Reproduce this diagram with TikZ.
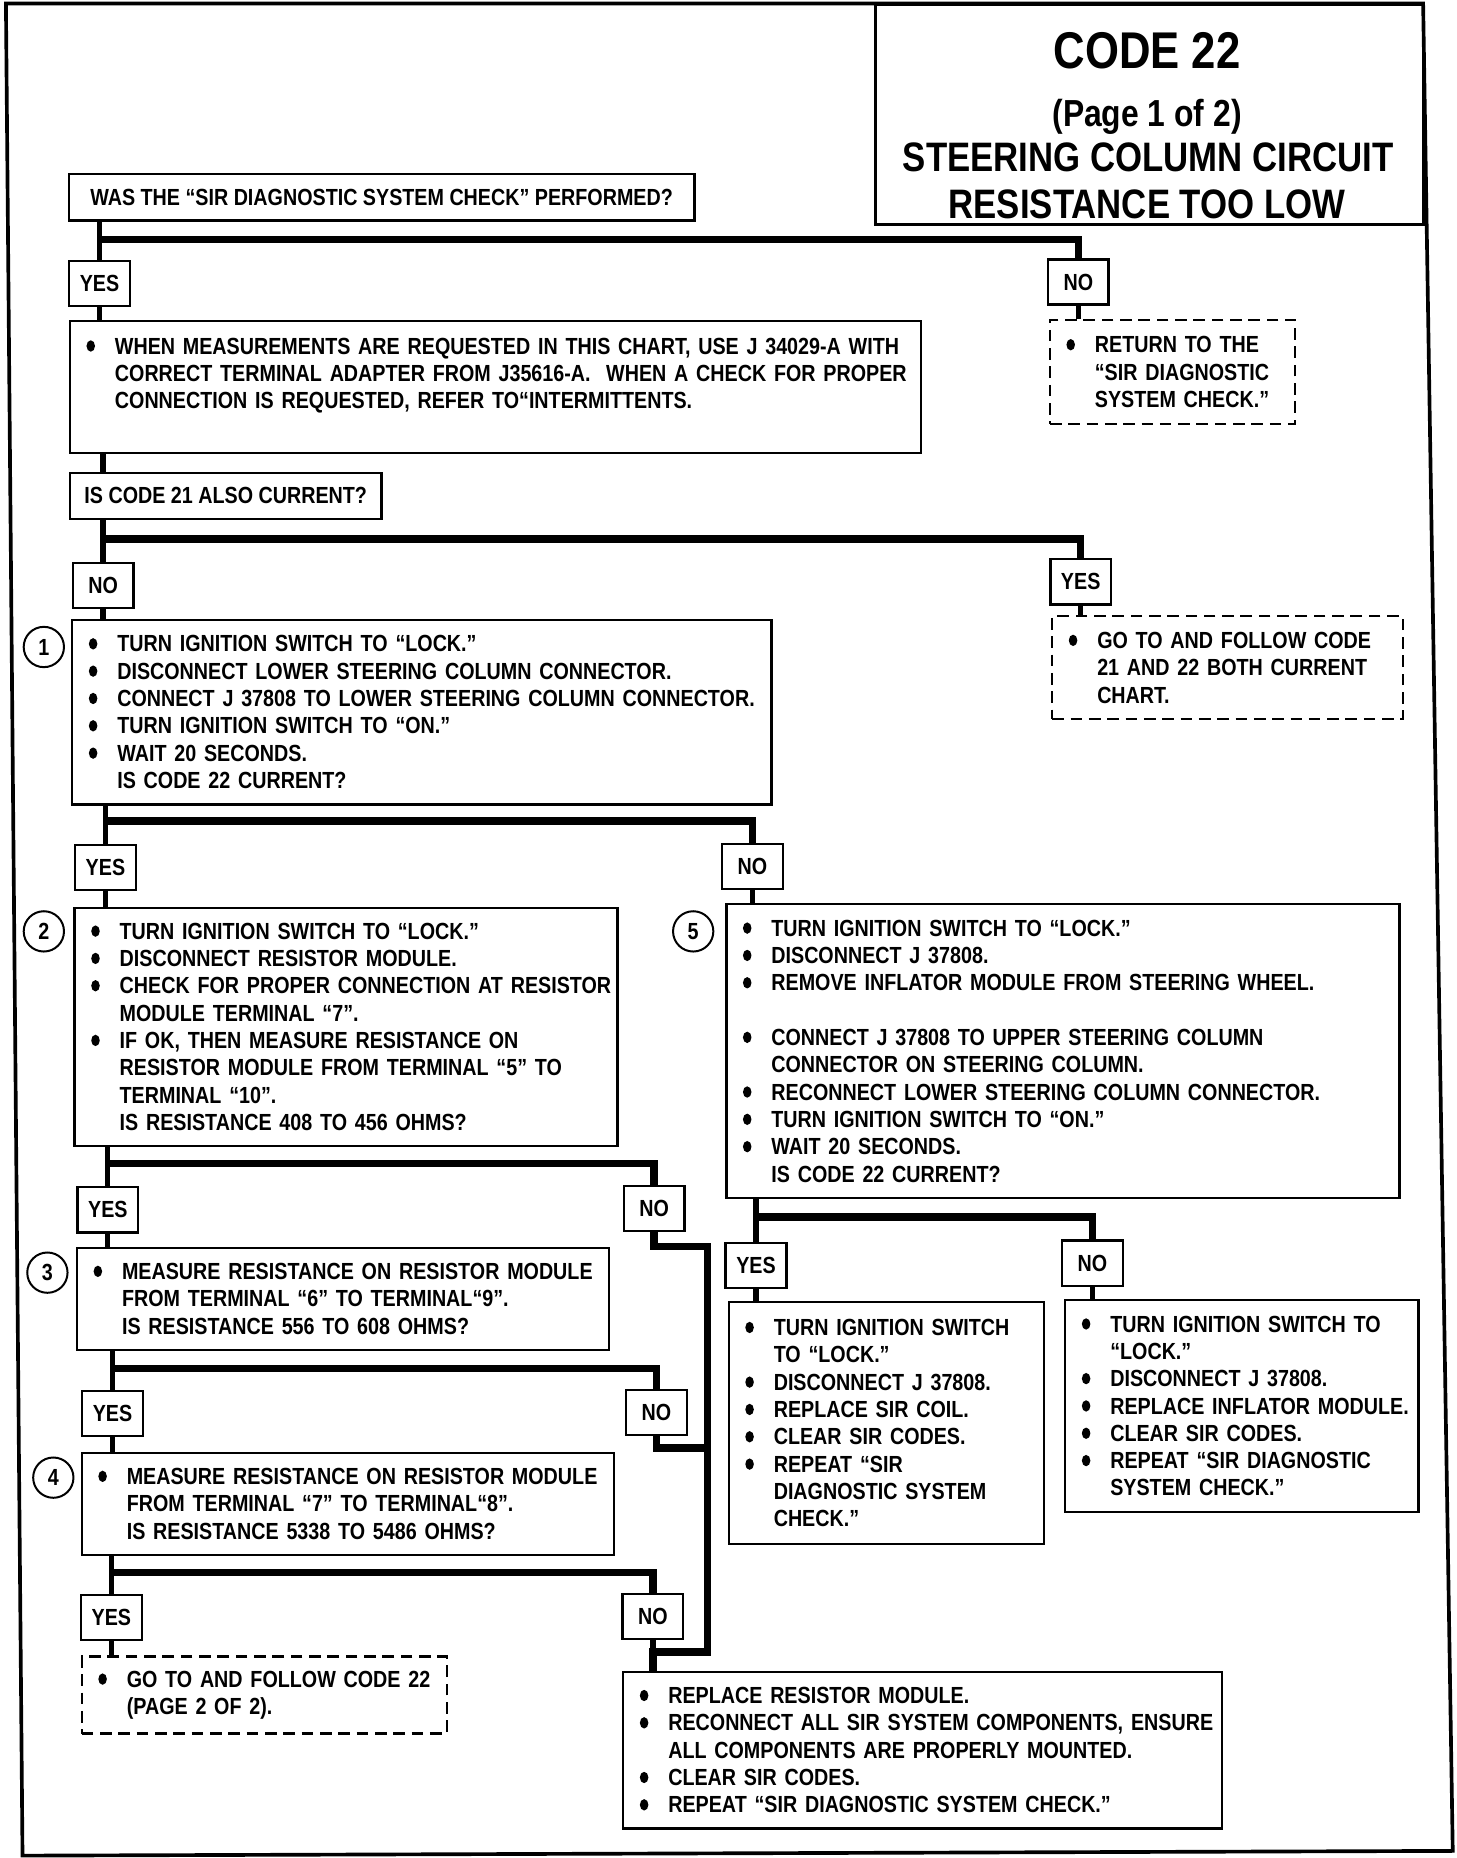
\documentclass[tikz,border=0pt]{standalone}
\usepackage{fontspec}
\setmainfont{Liberation Sans}[FakeStretch=0.845]
\usepackage{xcolor}

\newcommand{\bodyfont}{\fontsize{14}{16.4}\selectfont\bfseries}
\newcommand{\bigdot}{\tikz[baseline=0pt]\fill (0.09cm,0.17cm) ellipse [x radius=0.09cm, y radius=0.12cm];}
\newcommand{\bitem}[1]{\mbox{\hspace{0.2cm}\makebox[0.6cm][l]{\bigdot}#1}}
\newcommand{\citem}[1]{\mbox{\hspace{0.8cm}#1}}

\tikzset{
 box/.style={draw, line width=1.4pt, anchor=north west, inner xsep=0.15cm, inner ysep=0pt, align=left},
 dbox/.style={box, dash pattern=on 7pt off 4pt},
 qbox/.style={draw, line width=1.4pt, anchor=north west, minimum height=0.975cm, inner sep=0pt},
 ans/.style={draw, line width=1.4pt, minimum width=1.28cm, minimum height=0.95cm, inner sep=0pt},
 num/.style={circle, draw, line width=1.2pt, minimum size=0.85cm, inner sep=0pt},
 stub/.style={line width=3.2pt},
 bar/.style={line width=4.5pt},
}

\begin{document}
\begin{tikzpicture}[x=0.025cm, y=-0.025cm, font=\bodyfont]
\useasboundingbox (0,0) rectangle (1229,1568);

 %frame
 \draw[line width=2.2pt] (5,3) -- (1201,3) -- (1226,1562) -- (19,1566) -- cycle;

 %title
 \node[draw, line width=1.6pt, anchor=north west, minimum width=11.55cm, minimum height=4.625cm, inner sep=0pt] (title) at (738,3) {};
 \node[anchor=base, font=\fontsize{31}{35}\selectfont\bfseries] (tcode) at (968,58) {CODE 22};
 \node[anchor=base, font=\fontsize{22.6}{26}\selectfont\bfseries] (tpage) at (968,107) {(Page 1 of 2)};
 \node[anchor=base, font=\fontsize{24.7}{28}\selectfont\bfseries] (tl1) at (969,145) {STEERING COLUMN CIRCUIT};
 \node[anchor=base, font=\fontsize{24.7}{28}\selectfont\bfseries] (tl2) at (968,184) {RESISTANCE TOO LOW};

 %first check
 \node[qbox, minimum width=13.2cm] (q0) at (57,146) {WAS THE “SIR DIAGNOSTIC SYSTEM CHECK” PERFORMED?};
 \node[ans] (y0) at (84,239) {YES};
 \node[ans] (n0) at (910,238) {NO};

 \node[box, text width=17.65cm, minimum height=2.775cm] (ba) at (58,270) {\bitem{WHEN MEASUREMENTS ARE REQUESTED IN THIS CHART, USE J 34029-A WITH}\\
 \citem{CORRECT TERMINAL ADAPTER FROM J35616-A.\ \ WHEN A CHECK FOR PROPER}\\
 \citem{CONNECTION IS REQUESTED, REFER TO“INTERMITTENTS.}\\ \mbox{}};
 \node[dbox, text width=4.875cm, minimum height=2.2cm] (bb) at (885,269) {\bitem{RETURN TO THE}\\ \citem{“SIR DIAGNOSTIC}\\ \citem{SYSTEM CHECK.”}};

 %code 21
 \node[qbox, minimum width=6.575cm] (q1) at (58,398) {IS CODE 21 ALSO CURRENT?};
 \node[ans] (n1) at (87,494) {NO};
 \node[ans] (y1) at (912,491) {YES};
 \node[dbox, text width=7.1cm, minimum height=2.175cm] (bc) at (887,519) {\bitem{GO TO AND FOLLOW CODE}\\ \citem{21 AND 22 BOTH CURRENT}\\ \citem{CHART.}};

 %step 1
 \node[num] (c1) at (37,546) {1};
 \node[box, text width=14.45cm, minimum height=3.9cm] (b1) at (60,522) {\bitem{TURN IGNITION SWITCH TO “LOCK.”}\\
 \bitem{DISCONNECT LOWER STEERING COLUMN CONNECTOR.}\\
 \bitem{CONNECT J 37808 TO LOWER STEERING COLUMN CONNECTOR.}\\
 \bitem{TURN IGNITION SWITCH TO “ON.”}\\
 \bitem{WAIT 20 SECONDS.}\\
 \citem{IS CODE 22 CURRENT?}};
 \node[ans] (y2) at (89,732) {YES};
 \node[ans] (n2) at (635,731) {NO};

 %step 2
 \node[num] (c2) at (37,786) {2};
 \node[box, text width=11.15cm, minimum height=5.025cm] (b2) at (62,765) {\bitem{TURN IGNITION SWITCH TO “LOCK.”}\\
 \bitem{DISCONNECT RESISTOR MODULE.}\\
 \bitem{CHECK FOR PROPER CONNECTION AT RESISTOR}\\
 \citem{MODULE TERMINAL “7”.}\\
 \bitem{IF OK, THEN MEASURE RESISTANCE ON}\\
 \citem{RESISTOR MODULE FROM TERMINAL “5” TO}\\
 \citem{TERMINAL “10”.}\\
 \citem{IS RESISTANCE 408 TO 456 OHMS?}};
 \node[ans] (y3) at (91,1021) {YES};
 \node[ans] (n3) at (552,1020) {NO};

 %step 5
 \node[num] (c5) at (585,786) {5};
 \node[box, text width=13.9cm, minimum height=6.2cm] (b5) at (612,762) {\bitem{TURN IGNITION SWITCH TO “LOCK.”}\\
 \bitem{DISCONNECT J 37808.}\\
 \bitem{REMOVE INFLATOR MODULE FROM STEERING WHEEL.}\\[0.575cm]
 \bitem{CONNECT J 37808 TO UPPER STEERING COLUMN}\\
 \citem{CONNECTOR ON STEERING COLUMN.}\\
 \bitem{RECONNECT LOWER STEERING COLUMN CONNECTOR.}\\
 \bitem{TURN IGNITION SWITCH TO “ON.”}\\
 \bitem{WAIT 20 SECONDS.}\\
 \citem{IS CODE 22 CURRENT?}};
 \node[ans] (y6) at (638,1068) {YES};
 \node[ans] (n6) at (922,1066) {NO};
 \node[box, text width=6.35cm, minimum height=5.1cm] (b7) at (614,1098) {\bitem{TURN IGNITION SWITCH}\\
 \citem{TO “LOCK.”}\\
 \bitem{DISCONNECT J 37808.}\\
 \bitem{REPLACE SIR COIL.}\\
 \bitem{CLEAR SIR CODES.}\\
 \bitem{REPEAT “SIR}\\
 \citem{DIAGNOSTIC SYSTEM}\\
 \citem{CHECK.”}};
 \node[box, text width=7.15cm, minimum height=4.475cm] (b8) at (898,1096) {\bitem{TURN IGNITION SWITCH TO}\\
 \citem{“LOCK.”}\\
 \bitem{DISCONNECT J 37808.}\\
 \bitem{REPLACE INFLATOR MODULE.}\\
 \bitem{CLEAR SIR CODES.}\\
 \bitem{REPEAT “SIR DIAGNOSTIC}\\
 \citem{SYSTEM CHECK.”}};

 %step 3
 \node[num] (c3) at (40,1074) {3};
 \node[box, text width=10.925cm, minimum height=2.15cm] (b3) at (64,1052) {\bitem{MEASURE RESISTANCE ON RESISTOR MODULE}\\
 \citem{FROM TERMINAL “6” TO TERMINAL“9”.}\\
 \citem{IS RESISTANCE 556 TO 608 OHMS?}};
 \node[ans] (y4) at (95,1193) {YES};
 \node[ans] (n4) at (554,1192) {NO};

 %step 4
 \node[num] (c4) at (45,1247) {4};
 \node[box, text width=10.925cm, minimum height=2.15cm] (b4) at (68,1225) {\bitem{MEASURE RESISTANCE ON RESISTOR MODULE}\\
 \citem{FROM TERMINAL “7” TO TERMINAL“8”.}\\
 \citem{IS RESISTANCE 5338 TO 5486 OHMS?}};
 \node[ans] (y5) at (94,1365) {YES};
 \node[ans] (n5) at (551,1364) {NO};

 \node[dbox, text width=7.4cm, minimum height=1.625cm] (bd) at (68,1397) {\bitem{GO TO AND FOLLOW CODE 22}\\ \citem{(PAGE 2 OF 2).}};
 \node[box, text width=12.325cm, minimum height=3.3cm] (b6) at (525,1410) {\bitem{REPLACE RESISTOR MODULE.}\\
 \bitem{RECONNECT ALL SIR SYSTEM COMPONENTS, ENSURE}\\
 \citem{ALL COMPONENTS ARE PROPERLY MOUNTED.}\\
 \bitem{CLEAR SIR CODES.}\\
 \bitem{REPEAT “SIR DIAGNOSTIC SYSTEM CHECK.”}};

 %connectors
 \coordinate (j0) at (84,202);
 \coordinate (j1) at (87,455);
 \coordinate (j2) at (89,693);
 \coordinate (j3) at (91,982);
 \coordinate (j4) at (95,1155);
 \coordinate (j5) at (94,1327);
 \coordinate (j6) at (638,1027);
 \coordinate (k1) at (597,1052); %NO path to resistor module
 \coordinate (k2) at (597,1222);
 \coordinate (k3) at (597,1394);

 \draw[stub] (q0.south -| y0.north) -- (y0.north);
 \draw[bar] (j0) -| (n0.north);
 \draw[stub] (y0.south) -- (ba.north -| y0.south);
 \draw[stub] (n0.south) -- (bb.north -| n0.south);

 \draw[stub] (ba.south -| n1.north) -- (q1.north -| n1.north);
 \draw[stub] (q1.south -| n1.north) -- (n1.north);
 \draw[bar] (j1) -| (y1.north);
 \draw[stub] (n1.south) -- (b1.north -| n1.south);
 \draw[stub] (y1.south) -- (bc.north -| y1.south);

 \draw[stub] (b1.south -| y2.north) -- (y2.north);
 \draw[bar] (j2) -| (n2.north);
 \draw[stub] (y2.south) -- (b2.north -| y2.south);
 \draw[stub] (n2.south) -- (b5.north -| n2.south);

 \draw[stub] (b2.south -| y3.north) -- (y3.north);
 \draw[bar] (j3) -| (n3.north);
 \draw[stub] (y3.south) -- (b3.north -| y3.south);

 \draw[stub] (b3.south -| y4.north) -- (y4.north);
 \draw[bar] (j4) -| (n4.north);
 \draw[stub] (y4.south) -- (b4.north -| y4.south);

 \draw[stub] (b4.south -| y5.north) -- (y5.north);
 \draw[bar] (j5) -| (n5.north);
 \draw[stub] (y5.south) -- (bd.north -| y5.south);

 \draw[bar] (n3.south) |- (k1) -- (k3) -| (b6.north -| n5.south);
 \draw[bar] (n4.south) |- (k2);
 \draw[stub] (n5.south) -- (b6.north -| n5.south);

 \draw[stub] (b5.south -| y6.north) -- (y6.north);
 \draw[bar] (j6) -| (n6.north);
 \draw[stub] (y6.south) -- (b7.north -| y6.south);
 \draw[stub] (n6.south) -- (b8.north -| n6.south);

\end{tikzpicture}
\end{document}
